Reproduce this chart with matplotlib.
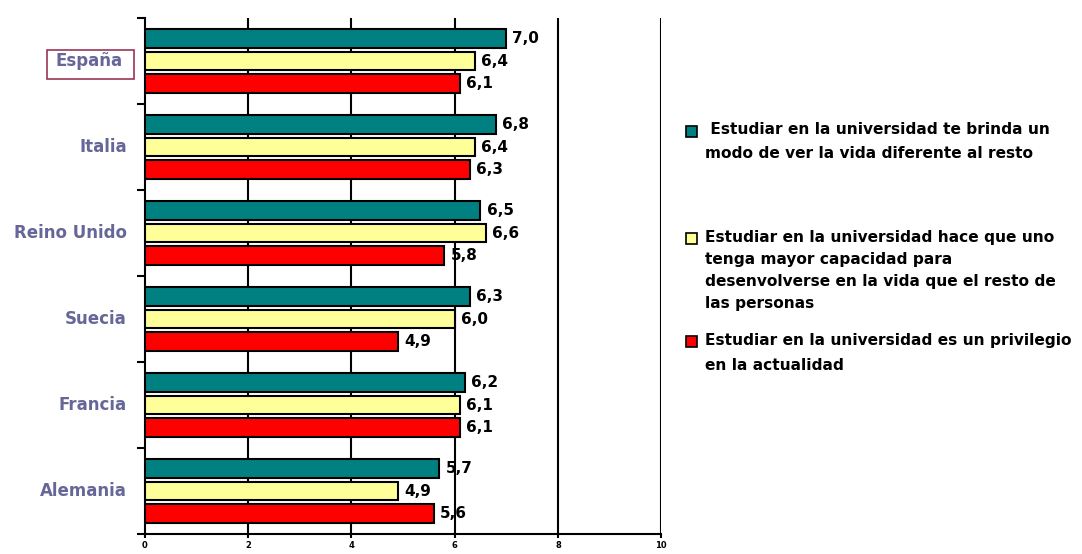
import matplotlib.pyplot as plt
from matplotlib.patches import Rectangle
import numpy as np

paises = ["España", "Italia", "Reino Unido", "Suecia", "Francia", "Alemania"]
brinda = [7.0, 6.8, 6.5, 6.3, 6.2, 5.7]
capacidad = [6.4, 6.4, 6.6, 6.0, 6.1, 4.9]
privilegio = [6.1, 6.3, 5.8, 4.9, 6.1, 5.6]
series_labels = [
    " Estudiar en la universidad te brinda un\nmodo de ver la vida diferente al resto",
    "Estudiar en la universidad hace que uno\ntenga mayor capacidad para\ndesenvolverse en la vida que el resto de\nlas personas",
    "Estudiar en la universidad es un privilegio\nen la actualidad",
]
colores = ["#008080", "#FFFF99", "#FF0000"]
xticks = [0, 2, 4, 6, 8, 10]

plt.rcParams['font.family'] = ['DejaVu Sans']
fig = plt.figure(figsize=(10.82, 5.54), dpi=100)
ax = fig.add_axes([0.134, 0.0361, 0.477, 0.9314])

y = np.arange(len(paises))
h = 0.22
off = 0.262
for k, vals in enumerate([brinda, capacidad, privilegio]):
    pos = y + (k - 1) * off
    ax.barh(pos, vals, height=h, color=colores[k], edgecolor='black', linewidth=1.5, zorder=3)
    for p, v in zip(pos, vals):
        ax.text(v + 0.12, p, f"{v:.1f}".replace('.', ','), va='center', ha='left',
                fontsize=11, fontweight='bold', zorder=4)

ax.set_xlim(0, 10)
ax.set_ylim(len(paises) - 0.5, -0.5)
ax.set_xticks(xticks)
ax.set_xticklabels([str(t) for t in xticks], fontsize=6, fontweight='bold')
ax.tick_params(axis='x', length=3, width=1.5, pad=2)
for xv in xticks[1:]:
    ax.axvline(xv, color='black', linewidth=1.5, zorder=1)

ax.set_yticks(np.arange(-0.5, len(paises) + 0.5, 1.0))
ax.set_yticklabels([])
ax.tick_params(axis='y', length=6, width=1.5)
for i, nombre in enumerate(paises):
    ax.text(-0.43 if i == 0 else -0.35, i, nombre, ha='right', va='center', fontsize=12,
            fontweight='bold', color='#666699')

# recuadro alrededor de España
fig.patches.append(Rectangle((0.0434, 0.8574), 0.0804, 0.0523, transform=fig.transFigure,
                             facecolor='none', edgecolor='#993355', linewidth=1.2))

for s in ['top', 'right']:
    ax.spines[s].set_visible(False)
ax.spines['left'].set_linewidth(1.5)
ax.spines['bottom'].set_linewidth(1.5)

# leyenda manual
ley_y = [0.762, 0.5686, 0.3827]
espacio = [1.74, 1.6, 1.88]
for k in range(3):
    fig.patches.append(Rectangle((0.634, ley_y[k] - 0.0099), 0.0102, 0.0199, transform=fig.transFigure,
                                 facecolor=colores[k], edgecolor='black', linewidth=1.2))
    fig.text(0.6516, ley_y[k] + 0.017, series_labels[k], ha='left', va='top', fontsize=11.1,
             fontweight='bold', linespacing=espacio[k])

fig.savefig('out.png', dpi=100)
